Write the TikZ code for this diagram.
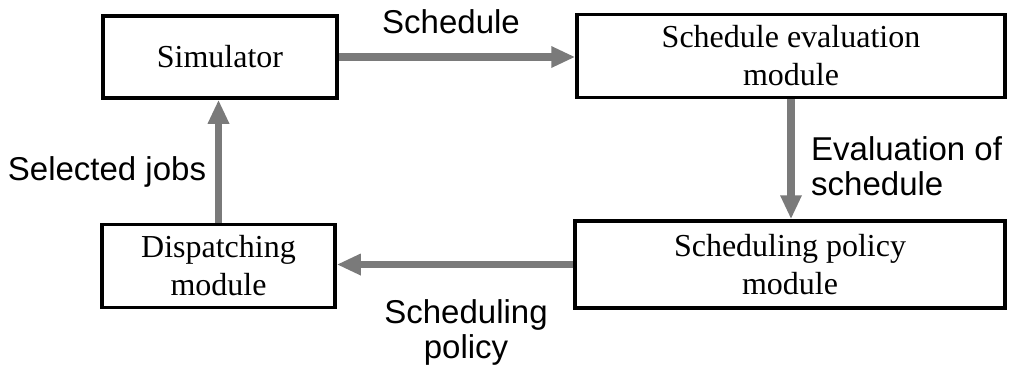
\documentclass[tikz,border=0pt]{standalone}
\usepackage{fontspec}
\setmainfont{Liberation Serif}
\newfontfamily\labelfont{Liberation Sans}
\usetikzlibrary{arrows.meta,calc}
\begin{document}
\begin{tikzpicture}[x=1pt,y=-1pt,
  modbox/.style={draw=black, line width=3.5pt, inner sep=0pt, align=center,
    font=\fontsize{32}{38}\selectfont},
  flow/.style={line width=7.5pt, draw=black!52,
    -{Triangle[length=24pt,width=20pt]}},
  tag/.style={font=\labelfont\fontsize{33}{35}\selectfont, inner sep=0pt}]
  \useasboundingbox (0,0) rectangle (1017,368);

  % modules
  \node[modbox, minimum width=234pt, minimum height=82pt] (sim)  at (220,57)    {Simulator};
  \node[modbox, minimum width=428pt, minimum height=83pt] (eval) at (791,56)    {Schedule evaluation\\module};
  \node[modbox, minimum width=233pt, minimum height=83pt] (disp) at (218.5,266) {Dispatching\\module};
  \node[modbox, minimum width=430pt, minimum height=87pt] (pol)  at (790,264.5) {Scheduling policy\\module};

  % information flow
  \draw[flow] (sim.east) -- (sim.east -| eval.west);
  \draw[flow] (eval.south) -- (eval.south |- pol.north);
  \draw[flow] (pol.west) -- (pol.west -| disp.east);
  \draw[flow] (disp.north) -- (disp.north |- sim.south);

  % flow labels
  \node[tag] (tsched) at (451,22) {Schedule};
  \node[tag, anchor=west, align=left] (teval) at (811,166) {Evaluation of\\schedule};
  \node[tag] (tsel) at (107,172) {Selected jobs};
  \node[tag, align=center] (tpol) at (466,332) {Scheduling\\policy};
\end{tikzpicture}
\end{document}
